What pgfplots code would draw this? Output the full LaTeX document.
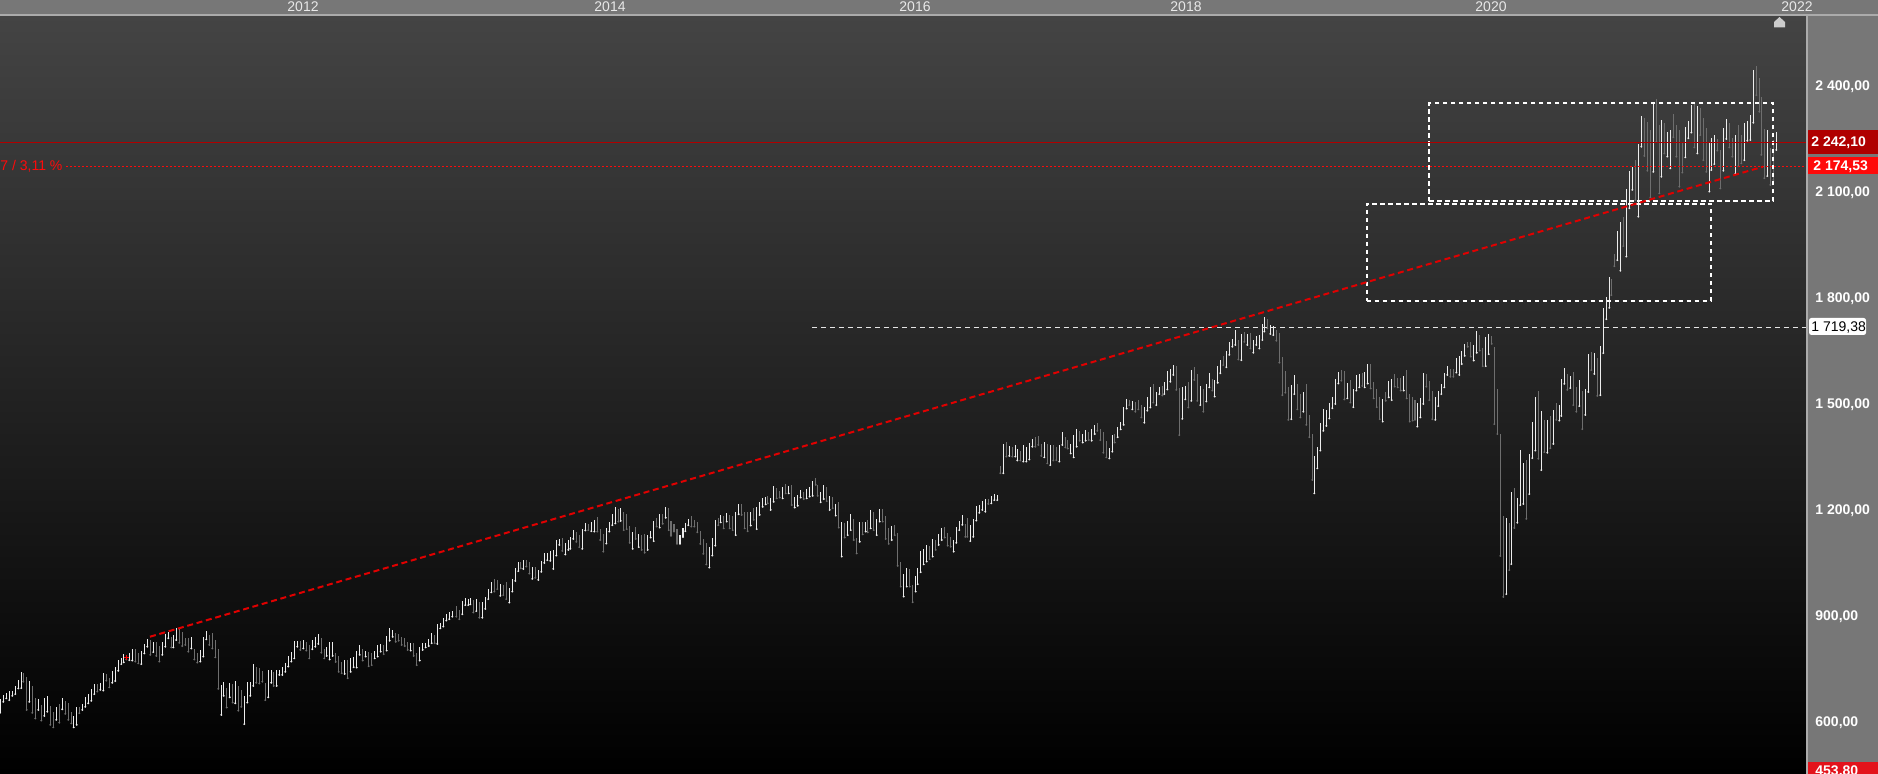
\documentclass[border=0pt]{standalone}
\usepackage{pgfplots}
\pgfplotsset{compat=1.18}
\usepackage{pgfplotstable}
\usepackage{fontspec}
\setmainfont{Liberation Sans}

\definecolor{panel}{HTML}{777777}
\definecolor{panelline}{HTML}{ABABAB}
\definecolor{bgtop}{HTML}{444444}
\definecolor{bgbot}{HTML}{000000}
\definecolor{upbar}{HTML}{EDEDED}
\definecolor{downbar}{HTML}{6E6E6E}
\definecolor{trend}{HTML}{E00000}
\definecolor{lastred}{HTML}{B00000}
\definecolor{lvlred}{HTML}{FF0A0A}
\definecolor{minred}{HTML}{E3131B}
\definecolor{yeartxt}{HTML}{E8E8E8}

\pgfplotsset{
  hlbar/.style={only marks, mark=*, mark size=0.25pt,
    mark options={draw=#1, fill=#1}, color=#1, forget plot,
    error bars/.cd, y dir=plus, y explicit, error mark=none,
    error bar style={line width=0.55pt, draw=#1}, /pgfplots/.cd},
}

% weekly bars: x (chart pixel), low, high, c (1 = up, 0 = down)
\pgfplotstableread{
x lo hi c
0 629 667 1
3.3 660 679 1
6.3 670 686 1
9.3 665 692 1
12.3 677 692 1
15.3 682 705 1
18.3 698 722 1
21.3 699 745 1
23.3 717 741 0
26.7 637 731 0
29.3 660 719 1
32.3 629 705 0
35.3 613 670 0
38.3 637 668 1
41.3 607 651 0
44.3 620 670 1
47.3 632 677 1
50.3 595 648 0
53.3 588 632 0
56.3 609 646 1
59.3 601 653 0
62.3 639 670 1
65.3 626 663 0
68.3 609 658 0
71.3 599 632 0
73.7 588 620 1
76.7 595 644 1
79.3 628 646 0
82.3 637 654 1
85.3 646 673 1
88.3 656 682 1
91.3 663 696 1
94.3 682 710 1
97.3 689 710 0
100.3 694 712 1
103.3 692 743 1
106.3 720 739 0
109.3 701 727 0
112.3 714 748 1
115.3 719 758 1
118.3 748 778 1
121.3 767 783 1
123.7 772 794 1
126.3 780 793 0
129.3 778 799 1
132.3 777 809 1
135.3 774 809 0
138.3 769 797 0
141.3 767 803 1
144.3 797 824 1
147.3 816 838 1
150.3 793 835 0
153.3 801 830 1
156.3 790 830 0
159.3 774 818 0
162.3 793 830 1
165.3 816 852 1
168.3 840 859 1
171.3 814 844 0
173.3 814 849 1
176.3 835 868 1
179.3 827 871 0
182.3 818 859 0
185.3 821 840 0
188.3 802 841 0
191.3 811 844 1
194.3 780 809 0
197.3 771 797 0
200.3 774 807 1
203.3 788 843 1
206.3 837 860 1
209.3 821 849 0
212.3 811 856 0
215.3 786 835 0
218.3 697 809 0
221.3 623 708 1
223.7 677 717 1
226.7 644 698 0
229.7 673 714 1
232.7 658 710 0
235.3 656 719 1
238.3 635 705 0
241.3 646 694 0
244.3 597 677 1
247.3 658 717 1
250.3 677 717 1
253.3 705 767 1
256.3 714 760 0
259.3 712 755 0
262.3 717 747 0
265.3 665 714 0
268.3 673 750 1
271.3 714 750 1
273.7 705 745 0
276.7 705 750 1
279.3 736 750 1
282.3 736 758 1
285.3 745 771 1
288.3 760 790 1
291.3 774 802 1
294.3 783 832 1
297.3 816 833 1
300.3 807 832 0
303.3 811 835 1
306.3 805 830 0
309.3 783 821 0
312.3 809 835 1
315.3 816 843 1
318.3 824 852 1
321.3 799 840 0
324.3 783 809 0
326.7 790 814 1
329.7 780 830 1
332.7 790 830 1
335.7 773 797 0
338.7 745 790 0
341.7 741 774 0
344.7 739 778 1
347.7 727 777 0
350.7 745 783 1
353.7 758 786 1
356.7 757 805 1
359.7 793 821 1
362.7 777 809 0
365.7 788 805 1
368.7 761 802 0
371.7 764 799 0
374.7 783 805 1
377.7 788 821 1
380.7 802 824 1
383.7 795 821 0
386.7 805 846 1
389.7 833 868 1
392.7 844 863 1
395.7 830 856 0
398.7 833 852 0
401.7 821 843 0
404.7 818 840 0
407.7 807 830 0
410.7 805 827 1
413.7 790 827 0
416.7 764 799 0
419.7 777 814 1
422.7 807 827 1
425.7 814 827 1
428.7 818 837 1
431.7 826 854 1
434.7 826 849 0
437.3 824 880 1
440.3 868 884 1
443.3 873 896 1
446.3 890 909 1
449.3 894 915 1
452.3 901 917 1
456.3 901 932 0
459.3 894 920 0
462.3 908 945 1
465.3 934 955 1
468.3 934 951 1
470.3 936 955 1
473.3 913 948 0
476.3 917 951 1
479.3 898 942 0
482.3 898 943 1
485.3 923 958 1
488.3 951 979 1
491.3 970 1000 1
494.3 972 1008 0
497.3 979 1005 0
500.3 960 993 1
503.3 962 991 0
506.3 951 1000 0
509.3 941 983 1
512.3 972 1008 1
515.3 1002 1040 1
518.3 1030 1057 1
520.7 1038 1057 0
523.3 1036 1061 1
526.3 1043 1061 0
529.3 1023 1055 0
532.3 1008 1043 1
535.3 1011 1043 0
538.3 1005 1033 1
541.3 1028 1059 1
544.3 1053 1081 1
547.3 1061 1080 1
550.3 1059 1087 1
553.3 1036 1090 1
556.3 1074 1118 1
559.3 1104 1121 1
562.3 1087 1125 0
565.3 1077 1110 1
568.3 1090 1118 1
570.3 1093 1127 1
573.3 1121 1146 1
576.3 1113 1140 0
579.3 1098 1132 0
582.3 1093 1149 1
585.3 1145 1166 1
588.3 1146 1164 0
591.3 1143 1170 1
594.3 1142 1175 1
597.3 1142 1184 0
600.3 1118 1149 0
603.3 1085 1134 0
606.3 1108 1153 1
609.3 1142 1170 1
612.3 1160 1191 1
615.3 1165 1212 1
618.3 1170 1206 0
620.7 1172 1208 1
623.7 1146 1196 0
626.7 1149 1191 0
629.7 1110 1159 0
632.7 1093 1142 1
635.7 1121 1156 0
638.7 1098 1134 1
641.7 1090 1132 0
644.7 1082 1134 0
647.7 1090 1132 1
650.7 1125 1143 1
653.7 1115 1172 1
656.7 1156 1179 0
659.7 1153 1192 1
662.7 1164 1191 0
665.7 1181 1211 1
668.7 1146 1208 0
671 1130 1172 0
674 1142 1162 0
677 1107 1149 0
680 1107 1132 1
683 1126 1153 1
685.3 1143 1167 1
688.3 1160 1177 1
691.3 1156 1186 0
694.3 1156 1175 0
697.3 1140 1168 0
700.3 1107 1143 0
703.3 1079 1121 0
706.3 1049 1109 0
709.3 1040 1099 1
712.3 1074 1125 1
715.3 1102 1175 1
718.3 1160 1179 0
720.7 1168 1189 1
723.7 1151 1187 0
726.7 1170 1193 1
729.7 1151 1189 0
732.7 1146 1187 0
735.7 1132 1198 1
738.7 1191 1220 1
741.7 1189 1219 0
744.7 1151 1198 0
747.7 1143 1198 0
750.7 1159 1196 1
753.7 1175 1208 0
756.7 1149 1211 1
759.7 1189 1226 1
762.7 1212 1236 1
765.7 1219 1239 1
767.7 1222 1243 0
770.7 1203 1236 1
773.7 1226 1272 1
776.7 1236 1266 0
779.7 1238 1258 0
782.7 1236 1267 1
785.7 1250 1276 0
788.7 1250 1272 1
791.7 1217 1274 0
794.7 1210 1240 1
797.7 1215 1245 1
800.7 1238 1260 1
803.7 1234 1255 0
806.7 1236 1262 1
809.7 1241 1267 1
812.7 1243 1285 1
815.7 1274 1293 0
817.7 1243 1274 0
820.7 1225 1255 1
823.7 1234 1274 1
826.7 1228 1267 0
829.7 1203 1243 1
832.7 1208 1239 0
835.7 1187 1220 1
838.7 1153 1225 0
841.7 1071 1170 1
844.7 1125 1165 0
847.7 1132 1172 1
850.7 1146 1191 1
853.7 1118 1177 0
856.7 1080 1123 0
859.7 1113 1168 1
862.7 1134 1170 0
865.7 1142 1168 1
867.7 1140 1176 0
870.7 1151 1203 1
873.7 1146 1198 0
876.7 1132 1177 1
879.7 1170 1206 1
882.7 1170 1206 0
885.7 1121 1186 0
888.7 1107 1153 0
891.7 1118 1159 1
894.7 1132 1160 0
897.7 1045 1137 0
900.7 986 1055 0
903.7 958 1021 1
906.7 986 1038 1
909.7 986 1035 0
912.7 942 991 0
915.7 972 1017 1
917.7 993 1038 1
920.7 1027 1087 1
923.7 1049 1093 1
926.7 1057 1104 1
929.7 1064 1102 0
932.7 1071 1121 1
935.7 1090 1118 0
938.7 1104 1135 1
941.7 1118 1153 1
944.7 1125 1156 0
947.7 1102 1137 0
950.7 1099 1127 0
953.7 1085 1118 1
956.3 1110 1154 1
959.3 1146 1173 1
962.3 1161 1189 1
965.3 1127 1163 0
967.3 1127 1179 0
970.3 1115 1161 1
973.3 1127 1177 1
976.3 1173 1214 1
979.3 1195 1217 1
982.3 1203 1227 1
985.3 1198 1233 1
988.3 1220 1233 0
991.3 1222 1243 1
994.3 1231 1248 1
997.3 1231 1245 1
1000.3 1307 1327 0
1003.3 1307 1390 1
1006.3 1354 1394 0
1009.3 1356 1384 1
1012.3 1354 1380 0
1015.3 1354 1387 1
1017.3 1343 1375 1
1020.3 1343 1371 0
1023.3 1340 1387 1
1026.3 1340 1382 1
1029.3 1346 1392 1
1032.3 1382 1403 1
1035.3 1382 1410 0
1038.3 1387 1412 0
1041.3 1356 1390 0
1044.3 1352 1395 1
1047.3 1335 1390 0
1050.3 1330 1387 1
1053.3 1343 1387 0
1056.3 1344 1382 0
1059.3 1340 1387 1
1062.3 1387 1424 1
1065.3 1380 1410 0
1067.7 1377 1401 0
1070.7 1363 1390 1
1073.7 1352 1415 1
1076.7 1382 1433 1
1079.7 1399 1427 0
1082.7 1394 1418 1
1085.7 1399 1429 1
1088.7 1401 1425 0
1091.7 1399 1433 1
1094.7 1418 1444 1
1097.3 1427 1448 0
1100.3 1401 1431 0
1103.3 1365 1425 0
1106.3 1352 1399 0
1109.3 1349 1379 1
1112.3 1368 1415 1
1114.7 1394 1418 0
1117.7 1409 1439 1
1120.7 1431 1452 1
1123.7 1444 1495 1
1126.7 1490 1516 1
1129.3 1500 1514 0
1132.3 1488 1512 1
1135.3 1481 1509 0
1138.3 1488 1514 0
1141.3 1465 1500 0
1144.3 1450 1494 1
1147.3 1484 1522 1
1150.3 1493 1552 1
1153.3 1507 1560 0
1156.3 1500 1538 1
1159.3 1531 1552 1
1162.3 1527 1554 0
1164.3 1531 1566 1
1167.3 1544 1597 1
1170.3 1566 1601 1
1173.3 1585 1613 1
1176.3 1543 1610 0
1179.3 1415 1547 0
1182.3 1461 1550 1
1185.3 1516 1554 1
1188.3 1493 1566 0
1191.3 1512 1599 1
1194.3 1571 1607 0
1197.3 1512 1588 0
1200.3 1500 1554 1
1203.3 1481 1544 0
1206.3 1510 1560 1
1209.3 1550 1592 1
1212.3 1541 1573 0
1214.7 1524 1571 1
1217.7 1563 1610 1
1220.3 1590 1627 1
1223.3 1613 1639 0
1226.3 1607 1654 1
1229.3 1642 1679 1
1232.3 1665 1686 1
1235.3 1670 1712 1
1238.3 1629 1684 0
1241.3 1627 1701 1
1244.3 1679 1707 0
1247.3 1670 1701 1
1250.3 1660 1705 0
1253.3 1648 1684 1
1256.3 1670 1695 1
1259.3 1660 1698 1
1262.3 1684 1729 1
1264.3 1708 1748 1
1267.3 1717 1743 0
1270.3 1701 1727 1
1273.3 1698 1724 1
1276.3 1682 1712 0
1279.3 1620 1705 0
1282.3 1528 1637 0
1285.3 1535 1597 0
1288.3 1458 1550 0
1291.3 1460 1557 1
1294.3 1531 1585 1
1297.3 1488 1560 0
1300.3 1465 1531 0
1303.3 1481 1538 1
1306.3 1444 1560 0
1309.3 1409 1472 0
1312.3 1288 1418 0
1314.3 1250 1356 1
1317.3 1321 1382 1
1320.3 1371 1448 1
1323.3 1427 1488 1
1326.3 1441 1486 1
1329.3 1462 1505 1
1332.3 1491 1522 1
1335.3 1503 1573 1
1338.3 1561 1594 1
1341.3 1569 1599 0
1344.3 1516 1597 0
1347.3 1519 1563 1
1350.3 1507 1571 0
1353.3 1494 1544 1
1356.3 1541 1585 1
1359.3 1550 1588 1
1362.3 1554 1590 0
1364.7 1550 1593 1
1367.7 1561 1616 1
1370.7 1547 1616 0
1373.7 1519 1566 0
1376.7 1494 1545 0
1379.7 1460 1522 0
1382.7 1453 1516 1
1385.7 1512 1538 0
1388.7 1522 1569 1
1391.7 1514 1573 1
1394.7 1552 1588 0
1397.7 1550 1576 0
1400.7 1541 1576 0
1403.7 1541 1582 1
1406.7 1519 1599 0
1409.7 1453 1531 0
1412.7 1456 1522 0
1415.0 1458 1514 0
1417.3 1439 1507 1
1420.3 1465 1519 1
1423.3 1503 1592 1
1426.3 1552 1588 0
1429.3 1514 1569 0
1432.3 1460 1541 0
1435.3 1458 1522 1
1438.3 1497 1541 1
1441.3 1531 1560 1
1444.3 1550 1592 1
1447.3 1585 1610 1
1450.3 1580 1601 0
1453.3 1580 1601 0
1456.3 1592 1632 1
1459.3 1585 1639 1
1461.7 1616 1654 1
1464.7 1639 1673 1
1467.7 1665 1679 0
1470.7 1637 1677 0
1473.7 1626 1670 1
1476.7 1648 1710 1
1479.7 1654 1698 0
1482.7 1610 1660 0
1485.7 1610 1692 1
1488.7 1644 1701 1
1491.7 1673 1695 0
1494.3 1446 1665 0
1497.3 1418 1545 0
1500.3 1073 1418 0
1503.3 957 1186 0
1506.3 965 1180 1
1509.3 1033 1167 0
1511.3 1050 1254 1
1514.3 1152 1265 0
1517.3 1167 1237 1
1520.3 1217 1373 1
1523.3 1220 1337 1
1526.3 1178 1343 0
1529.3 1248 1361 1
1532.3 1350 1452 1
1535.3 1371 1523 1
1538.3 1348 1540 0
1541.3 1316 1483 1
1544.3 1367 1458 0
1547.3 1365 1458 1
1550.3 1378 1469 0
1553.3 1390 1486 1
1556.3 1458 1505 0
1559.3 1456 1500 1
1561.3 1469 1574 1
1564.3 1560 1605 1
1567.3 1543 1588 0
1570.3 1548 1582 1
1573.3 1500 1593 0
1576.3 1481 1552 0
1579.3 1497 1571 1
1582.3 1432 1540 0
1585.3 1472 1545 1
1588.3 1537 1644 1
1591.3 1599 1650 0
1594.3 1588 1647 1
1597.3 1526 1633 0
1600.3 1528 1667 1
1603.3 1647 1775 1
1606.3 1743 1806 1
1609.3 1775 1862 1
1611.3 1811 1857 0
1614.3 1893 1927 0
1617.3 1910 1993 1
1620.3 1880 2017 1
1623.3 1950 2031 0
1626.3 1920 2111 1
1629.3 2057 2162 1
1632.3 2109 2173 1
1635.3 2080 2193 0
1638.3 2033 2238 1
1641.3 2231 2318 1
1644.3 2205 2311 0
1647.3 2163 2301 0
1650.3 2088 2278 0
1653.3 2160 2351 1
1656.3 2245 2365 0
1659.3 2099 2293 0
1661.3 2146 2307 1
1664.3 2212 2297 0
1667.3 2203 2274 1
1670.3 2170 2278 1
1673.3 2258 2324 0
1676.3 2203 2293 0
1679.3 2118 2278 0
1682.3 2158 2245 0
1685.3 2201 2286 1
1688.3 2255 2305 1
1691.3 2271 2349 1
1694.3 2229 2354 0
1697.3 2212 2346 1
1700.3 2264 2340 0
1703.3 2193 2311 0
1706.3 2160 2283 0
1709.3 2104 2243 1
1711.3 2165 2255 1
1714.3 2182 2264 1
1717.3 2220 2253 0
1720.3 2113 2222 0
1723.3 2163 2284 1
1726.3 2253 2309 1
1729.3 2229 2297 0
1732.3 2203 2255 0
1735.3 2154 2264 1
1738.3 2176 2293 0
1741.3 2184 2264 0
1744.3 2193 2297 1
1747.3 2248 2305 1
1750.3 2250 2321 1
1753.3 2299 2448 1
1756.3 2377 2459 0
1759.3 2330 2425 0
1761.3 2208 2373 0
1764.3 2142 2280 0
1767.3 2148 2278 1
1770.3 2123 2226 0
1773.3 2137 2250 0
1776.3 2222 2274 1
}\bars

\begin{document}
\begin{tikzpicture}[x=0.5pt,y=0.5pt]
\useasboundingbox (0,0) rectangle (1878,774);
\clip (0,0) rectangle (1878,774);
% header and price scale panel
\fill[panel] (0,0) rectangle (1878,774);

\begin{axis}[
    at={(0,0)}, anchor=south west,
    scale only axis, width=903pt, height=379.5pt,
    xmin=0, xmax=1806, ymin=455.8, ymax=2603.8,
    axis line style={draw=none},
    tick style={draw=none}, major tick length=0pt,
    clip mode=individual,
    axis background/.style={shade, top color=bgtop, bottom color=bgbot},
    xtick={303,610,915,1186,1491,1797},
    xticklabels={2012,2014,2016,2018,2020,2022},
    xticklabel pos=upper,
    xticklabel style={font=\fontsize{7}{8}\selectfont, text=yeartxt,
        anchor=base, inner sep=0pt, yshift=1.65pt},
    ytick={600,900,1200,1500,1800,2100,2400},
    yticklabels={{600,00},{900,00},{1 200,00},{1 500,00},{1 800,00},{2 100,00},{2 400,00}},
    yticklabel pos=right,
    yticklabel style={font=\bfseries\fontsize{7}{8}\selectfont, text=white,
        anchor=west, inner sep=0pt, xshift=4.5pt},
]
% price bars
\addplot[hlbar=downbar, restrict expr to domain={\thisrow{c}}{-0.5:0.5}]
    table[x=x, y=lo, y error expr=\thisrow{hi}-\thisrow{lo}] {\bars};
\addplot[hlbar=upbar, restrict expr to domain={\thisrow{c}}{0.5:1.5}]
    table[x=x, y=lo, y error expr=\thisrow{hi}-\thisrow{lo}] {\bars};

% rectangles
\addplot[white, line width=1pt, dash pattern=on 2.25pt off 1.75pt, mark=none]
    coordinates {(1429,2077.4) (1773.3,2077.4) (1773.3,2353.8) (1429,2353.8) (1429,2077.4)};
\addplot[white, line width=1pt, dash pattern=on 2.25pt off 1.75pt, mark=none]
    coordinates {(1366.5,1795.4) (1711,1795.4) (1711,2069.9) (1366.5,2069.9) (1366.5,1795.4)};

% levels
\addplot[white!90!black, line width=0.6pt, dash pattern=on 2.5pt off 2pt, mark=none]
    coordinates {(812,1719.38) (1806,1719.38)};
\addplot[lastred, line width=0.5pt, mark=none]
    coordinates {(0,2242.10) (1806,2242.10)};
\addplot[lvlred, line width=0.5pt, dash pattern=on 1pt off 1pt, mark=none]
    coordinates {(66,2174.53) (1806,2174.53)};

% trend line
\addplot[trend, line width=1pt, dash pattern=on 3pt off 1.85pt, mark=none]
    coordinates {(150,844.3) (1763,2174.5)};
\addplot[red, only marks, mark=+, mark size=1.1pt, line width=0.5pt]
    coordinates {(126.3,786)};

\node[anchor=west, inner sep=0pt, text=lvlred, font=\fontsize{7}{8}\selectfont]
    at (axis cs:0,2174.53) {7 / 3,11 \%};

% value flags on the price scale
\fill[lastred, rounded corners=1pt] (axis cs:1807,2210.4) rectangle (axis cs:1880,2278.3);
\node[anchor=west, inner sep=0pt, text=white, font=\bfseries\fontsize{7}{8}\selectfont]
    at (axis cs:1811,2242.10) {2 242,10};
\fill[lvlred] (axis cs:1807,2153.8) rectangle (axis cs:1880,2202.0);
\node[anchor=west, inner sep=0pt, text=white, font=\bfseries\fontsize{7}{8}\selectfont]
    at (axis cs:1813,2174.53) {2 174,53};
\fill[white, rounded corners=1.2pt] (axis cs:1809,1698.2) rectangle (axis cs:1866,1746.3);
\node[anchor=west, inner sep=0pt, text=black, font=\fontsize{7}{8}\selectfont]
    at (axis cs:1811,1719.38) {1 719,38};
\fill[minred] (axis cs:1807,440) rectangle (axis cs:1880,489.8);
\node[anchor=west, inner sep=0pt, text=white, font=\bfseries\fontsize{7}{8}\selectfont]
    at (axis cs:1815,462.3) {453,80};
\end{axis}

\draw[panelline, line width=0.8pt] (0,759) -- (1878,759);
\draw[panelline, line width=0.8pt] (1806.8,0) -- (1806.8,759);
\fill[white!80!black] (1774,746.5) -- (1785,746.5) -- (1785,752) -- (1779.5,757) -- (1774,752) -- cycle;
\end{tikzpicture}
\end{document}
